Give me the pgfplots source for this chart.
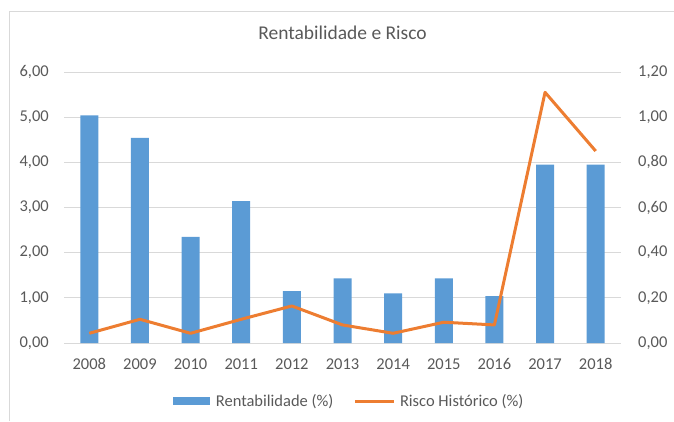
\documentclass[border=0pt]{standalone}
\usepackage{fontspec}
\setmainfont{Carlito}
\usepackage{pgfplots}
\pgfplotsset{compat=1.18}
\definecolor{barblue}{RGB}{91,155,213}
\definecolor{lineorange}{RGB}{237,125,49}
\definecolor{txtgray}{RGB}{89,89,89}
\definecolor{gridgray}{RGB}{217,217,217}
\begin{document}
\begin{tikzpicture}
\useasboundingbox (0pt,0pt) rectangle (674pt,421pt);
\draw[gridgray, line width=1pt] (9pt,0pt) -- (9pt,409pt) -- (674pt,409pt);
\pgfplotsset{
  common/.style={
    at={(64pt,78pt)}, anchor=south west,
    scale only axis, width=557pt, height=271pt,
    xmin=-0.5, xmax=10.5,
    axis line style={draw=none},
    major tick length=0pt,
    tick label style={font=\fontsize{16.5}{19}\selectfont, text=txtgray},
    /pgf/number format/.cd, fixed, fixed zerofill, precision=2, use comma, assume math mode=true,
  }
}
\begin{axis}[common,
  ymin=0, ymax=6, ytick={0,1,2,3,4,5,6},
  xtick={0,...,10},
  xticklabels={2008,2009,2010,2011,2012,2013,2014,2015,2016,2017,2018},
  xticklabel style={anchor=base, yshift=-26pt},
  yticklabel style={anchor=east, inner sep=0pt, xshift=-15pt},
  ymajorgrids, grid style={gridgray, line width=1pt},
  title={Rentabilidade e Risco},
  title style={at={(0.5,1)}, anchor=base, yshift=27pt, font=\fontsize{19.5}{22}\selectfont, text=txtgray},
]
\addplot[ybar, bar width=18pt, fill=barblue, draw=none] coordinates {
(0,5.04) (1,4.54) (2,2.35) (3,3.14) (4,1.15) (5,1.43) (6,1.10) (7,1.43) (8,1.04) (9,3.95) (10,3.95)};
\end{axis}
\begin{axis}[common,
  ymin=0, ymax=1.2, ytick={0,0.2,0.4,0.6,0.8,1.0,1.2},
  axis y line*=right, axis x line=none,
  yticklabel style={anchor=west, inner sep=0pt, xshift=17pt},
  legend columns=2,
  legend style={draw=none, fill=none, at={(0.512,0)}, anchor=center, yshift=-58pt,
    font=\fontsize{16.5}{19}\selectfont, text=txtgray,
    /tikz/every even column/.append style={column sep=18pt}},
]
\addlegendimage{legend image code/.code={\fill[barblue, draw=none] (0pt,-4pt) rectangle (37pt,4pt); \path[draw=none, fill=none] (0pt,0pt) -- (41pt,0pt);}}
\addlegendentry{Rentabilidade (\%)}
\addplot[lineorange, line width=3pt, line join=round,
  legend image code/.code={\draw[lineorange, line width=3pt] (0pt,0pt) -- (39pt,0pt); \path[draw=none, fill=none] (0pt,0pt) -- (43pt,0pt);}] coordinates {
(0,0.043) (1,0.105) (2,0.043) (3,0.105) (4,0.164) (5,0.080) (6,0.043) (7,0.092) (8,0.080) (9,1.11) (10,0.85)};
\addlegendentry{Risco Histórico (\%)}
\end{axis}
\end{tikzpicture}
\end{document}
